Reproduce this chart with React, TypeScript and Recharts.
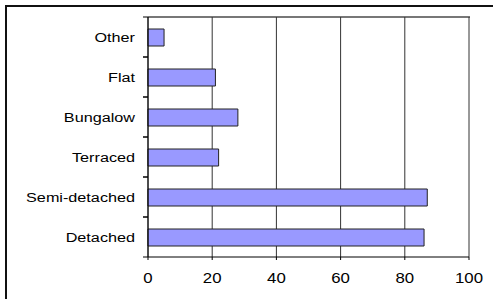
import { Bar, BarChart, CartesianGrid, XAxis, YAxis } from "recharts";

const categories = ["Other", "Flat", "Bungalow", "Terraced", "Semi-detached", "Detached"];
const counts = [5, 21, 28, 22, 87, 86];
const xTicks = [0, 20, 40, 60, 80, 100];

const data = categories.map((name, i) => ({ name, value: counts[i] }));

const W = 493;
const H = 299;
const plotLeft = 148;
const plotRight = 469;
const plotTop = 17;
const plotBottom = 257;
const band = (plotBottom - plotTop) / categories.length;
const font = "'Liberation Sans', Arial, sans-serif";
const stretch = 1.2;

function CategoryTick(props: any) {
  const { y, payload } = props;
  return (
    <g>
      <line x1={plotLeft - 5} x2={plotLeft} y1={y - band / 2} y2={y - band / 2} stroke="#000" />
      <line x1={plotLeft - 5} x2={plotLeft} y1={y + band / 2} y2={y + band / 2} stroke="#000" />
      <text
        transform={`translate(${plotLeft - 13},${y}) scale(${stretch},1)`}
        dy="0.36em"
        textAnchor="end"
        fontFamily={font}
        fontSize={13.5}
        fill="#000"
      >
        {payload.value}
      </text>
    </g>
  );
}

function ValueTick(props: any) {
  const { x, payload } = props;
  return (
    <text
      transform={`translate(${x},${plotBottom + 16}) scale(${stretch},1)`}
      dy="0.71em"
      textAnchor="middle"
      fontFamily={font}
      fontSize={14}
      fill="#000"
    >
      {payload.value}
    </text>
  );
}

export default function App() {
  return (
    <div style={{ position: "absolute", left: 0, top: 0, width: W, height: H, background: "#fff" }}>
      <div
        style={{
          position: "absolute",
          left: 5,
          top: 5,
          width: W - 5,
          height: H - 5,
          borderLeft: "2px solid #111",
          borderTop: "2px solid #111",
        }}
      />
      <div
        style={{
          position: "absolute",
          left: plotLeft,
          top: plotTop - 1,
          width: plotRight - plotLeft + 1,
          height: 0,
          borderTop: "2px solid #777",
        }}
      />
      <div style={{ position: "absolute", left: 0, top: 0 }}>
        <BarChart
          width={W}
          height={H}
          data={data}
          layout="vertical"
          margin={{ top: plotTop, right: W - plotRight, bottom: 0, left: 0 }}
        >
          <CartesianGrid horizontal={false} stroke="#333" />
          <XAxis
            type="number"
            domain={[0, 100]}
            ticks={xTicks}
            height={H - plotBottom}
            axisLine={{ stroke: "#000" }}
            tickLine={{ stroke: "#000" }}
            tickSize={3}
            tick={<ValueTick />}
            interval={0}
          />
          <YAxis
            type="category"
            dataKey="name"
            width={plotLeft}
            axisLine={{ stroke: "#000" }}
            tickLine={false}
            tick={<CategoryTick />}
            interval={0}
          />
          <Bar
            dataKey="value"
            fill="#9999FF"
            stroke="#222"
            strokeWidth={1}
            barSize={17}
            isAnimationActive={false}
          />
        </BarChart>
      </div>
    </div>
  );
}
